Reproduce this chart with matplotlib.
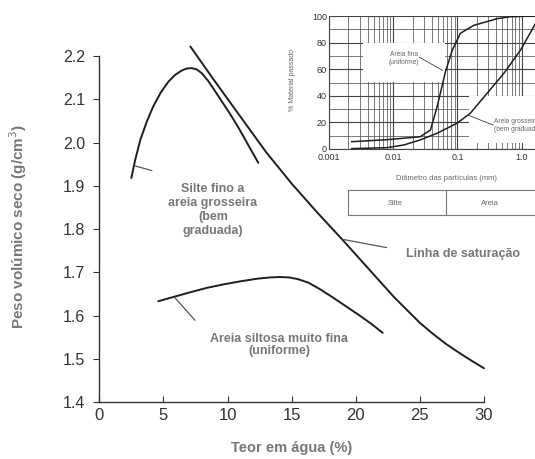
import matplotlib
matplotlib.use("Agg")
import matplotlib.pyplot as plt
from matplotlib.patches import Rectangle

plt.rcParams['font.family'] = ['Liberation Sans', 'DejaVu Sans']

# ---- main chart data (water content %, dry density g/cm3) ----
silte_w = [2.5, 2.8, 3.2, 3.7, 4.2, 4.8, 5.4, 5.9, 6.4, 6.8, 7.2, 7.6, 8.0, 8.5, 9.0, 9.6, 10.2, 10.9, 11.6, 12.4]
silte_g = [1.918, 1.960, 2.006, 2.048, 2.083, 2.116, 2.141, 2.156, 2.166, 2.171, 2.172, 2.169, 2.160, 2.142,
           2.120, 2.093, 2.066, 2.032, 1.995, 1.953]

sat_w = [7.1, 9, 11, 13, 15, 17, 19, 21, 23, 25, 26, 27, 28, 29, 30]
sat_g = [2.222, 2.142, 2.060, 1.978, 1.905, 1.838, 1.774, 1.708, 1.642, 1.583, 1.558, 1.535, 1.515, 1.496, 1.478]

areia_w = [4.6, 5.8, 7.0, 8.4, 9.7, 11.0, 12.3, 13.3, 14.1, 14.8, 15.5, 16.3, 17.2, 18.2, 19.2, 20.2, 21.2, 22.1]
areia_g = [1.633, 1.643, 1.653, 1.664, 1.672, 1.679, 1.685, 1.688, 1.689, 1.688, 1.684, 1.676, 1.661, 1.642,
           1.622, 1.602, 1.581, 1.560]

x_ticks = [0, 5, 10, 15, 20, 25, 30]
y_ticks = [1.4, 1.5, 1.6, 1.7, 1.8, 1.9, 2.0, 2.1, 2.2]

# ---- inset data (grain size mm, % passing) ----
fina_d = [0.00226, 0.008, 0.0263, 0.038, 0.0483, 0.065, 0.0832, 0.111, 0.18, 0.417, 0.67, 1.65]
fina_p = [5.5, 7.0, 9.2, 14.3, 31.8, 58, 74.4, 87, 93, 98, 99.5, 100]

gross_d = [0.00226, 0.008, 0.0145, 0.0263, 0.048, 0.098, 0.158, 0.29, 0.53, 0.96, 1.65]
gross_p = [0.3, 1.0, 3.0, 6.8, 11.8, 19.3, 26.8, 41.9, 57, 74.4, 94.5]

in_xticks = [0.001, 0.01, 0.1, 1.0]
in_xlabels = ['0.001', '0.01', '0.1', '1.0']
in_yticks = [0, 20, 40, 60, 80, 100]

W, H = 535, 459
fig = plt.figure(figsize=(W / 100, H / 100), dpi=100)

def fx(px):
    return px / W

def fy(py):
    return 1 - py / H

# main axes
ax = fig.add_axes([fx(99.3), fy(402), fx(484) - fx(99.3), fy(56) - fy(402)])
ax.set_xlim(0, 30)
ax.set_ylim(1.4, 2.2)
line_c = '#1e1e1e'
for xs, ys in [(silte_w, silte_g), (sat_w, sat_g), (areia_w, areia_g)]:
    ax.plot(xs, ys, color=line_c, lw=1.4, clip_on=False, solid_capstyle='round', solid_joinstyle='round')

for s in ['top', 'right']:
    ax.spines[s].set_visible(False)
for s in ['left', 'bottom']:
    ax.spines[s].set_color('#333333')
    ax.spines[s].set_linewidth(1.0)
ax.set_xticks(x_ticks)
ax.set_yticks(y_ticks)
ax.set_xticklabels([str(v) for v in x_ticks])
ax.set_yticklabels(['%.1f' % v for v in y_ticks])
ax.tick_params(axis='x', direction='in', length=4, labelsize=12, colors='#333333', pad=4)
ax.tick_params(axis='y', direction='out', length=4, labelsize=11.5, colors='#333333', pad=6)

lab_c = '#777777'
ax.set_xlabel('Teor em água (%)', fontsize=10.5, fontweight='bold', color=lab_c, labelpad=13)
fig.text(fx(18), fy(226), 'Peso volúmico seco (g/cm$^3$)', rotation=90, fontsize=11,
         fontweight='bold', color=lab_c, ha='center', va='center')

ax.text(fx(213), fy(210), 'Silte fino a\nareia grosseira\n(bem\ngraduada)', transform=fig.transFigure,
        ha='center', va='center', fontsize=9, fontweight='bold', color=lab_c, linespacing=1.2)
ax.text(fx(463), fy(254), 'Linha de saturação', transform=fig.transFigure,
        ha='center', va='center', fontsize=9, fontweight='bold', color=lab_c)
ax.text(fx(279), fy(345), 'Areia siltosa muito fina\n(uniforme)', transform=fig.transFigure,
        ha='center', va='center', fontsize=9, fontweight='bold', color=lab_c, linespacing=1.1)

lead = dict(arrowstyle='-', color='#555555', lw=0.9, shrinkA=0, shrinkB=0)
ax.annotate('', xy=(2.78, 1.946), xytext=(4.1, 1.935), arrowprops=lead)
ax.annotate('', xy=(19.0, 1.776), xytext=(22.4, 1.757), arrowprops=lead)
ax.annotate('', xy=(5.9, 1.641), xytext=(7.46, 1.589), arrowprops=lead)

# inset axes
left_px, right_px = 329, 541
top_px, bot_px = 16, 149
axi = fig.add_axes([fx(left_px), fy(bot_px), fx(right_px) - fx(left_px), fy(top_px) - fy(bot_px)])
axi.set_xscale('log')
axi.set_xlim(0.001, 2.0)
axi.set_ylim(0, 100)
axi.set_axisbelow(True)
minor = []
for dec in [0.001, 0.01, 0.1, 1.0]:
    for m in range(2, 10):
        v = m * dec
        if v < 2.0:
            minor.append(v)
axi.set_xticks(in_xticks)
axi.set_xticklabels(in_xlabels)
axi.set_xticks(minor, minor=True)
axi.set_xticklabels([], minor=True)
axi.set_yticks(in_yticks)
axi.set_yticks([10, 30, 50, 70, 90], minor=True)
axi.grid(True, which='major', color='#444444', lw=0.8)
axi.grid(True, which='minor', color='#555555', lw=0.55)
axi.tick_params(which='both', length=0)
axi.tick_params(axis='y', labelsize=6.5, colors='#333333', pad=1.5)
axi.tick_params(axis='x', labelsize=6.5, colors='#333333', pad=3)
for s in ['top', 'right']:
    axi.spines[s].set_visible(False)
for s in ['left', 'bottom']:
    axi.spines[s].set_color('#444444')
    axi.spines[s].set_linewidth(0.8)

axi.add_patch(Rectangle((0.0034, 50.4), 0.065 - 0.0034, 29.3, facecolor='white', edgecolor='none', zorder=1))
axi.add_patch(Rectangle((0.149, 4.5), 2.0 - 0.149, 35.5, facecolor='white', edgecolor='none', zorder=1))

axi.plot(fina_d, fina_p, color=line_c, lw=1.1, zorder=3)
axi.plot(gross_d, gross_p, color=line_c, lw=1.1, zorder=3)

axi.text(0.0145, 68, 'Areia fina\n(uniforme)', ha='center', va='center', fontsize=4.8, color='#666666', zorder=4)
axi.annotate('', xy=(0.0255, 69), xytext=(0.059, 59),
             arrowprops=dict(arrowstyle='-', color='#444444', lw=0.6, shrinkA=0, shrinkB=0), zorder=4)
axi.text(0.37, 18, 'Areia grosseira\n(bem graduada)', ha='left', va='center', fontsize=4.8,
         color='#666666', zorder=4, clip_on=False)
axi.annotate('', xy=(0.36, 18), xytext=(0.145, 25.5),
             arrowprops=dict(arrowstyle='-', color='#444444', lw=0.6, shrinkA=0, shrinkB=0), zorder=4)

fig.text(fx(292), fy(80), '% Material passado', rotation=90, fontsize=5, color='#666666', ha='center', va='center')
fig.text(fx(446), fy(178), 'Diâmetro das partículas (mm)', fontsize=5.5, color='#666666', ha='center', va='center')

# soil class table under the inset
tab_c = '#777777'
fig.add_artist(plt.Line2D([fx(348), fx(535)], [fy(190), fy(190)], color=tab_c, lw=0.8))
fig.add_artist(plt.Line2D([fx(348), fx(535)], [fy(215), fy(215)], color=tab_c, lw=0.8))
fig.add_artist(plt.Line2D([fx(348), fx(348)], [fy(190), fy(215)], color=tab_c, lw=0.8))
fig.add_artist(plt.Line2D([fx(446), fx(446)], [fy(190), fy(215)], color=tab_c, lw=0.8))
fig.text(fx(395), fy(203), 'Silte', fontsize=5.5, color='#666666', ha='center', va='center')
fig.text(fx(490), fy(203), 'Areia', fontsize=5.5, color='#666666', ha='center', va='center')

fig.savefig('out.png', dpi=100)
